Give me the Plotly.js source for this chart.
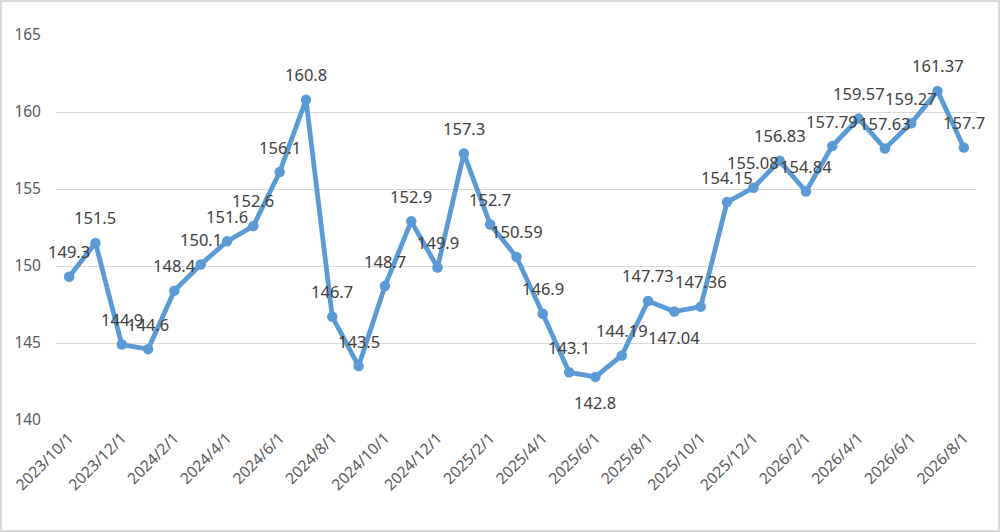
<!DOCTYPE html>
<html>
<head>
<meta charset="utf-8">
<script src="https://cdn.plot.ly/plotly-3.0.1.min.js"></script>
<style>
  html, body { margin: 0; padding: 0; background: #fff; }
  #chart { width: 1000px; height: 532px; box-sizing: border-box; border: 2px solid #d9d9d9; }
</style>
</head>
<body>
<div id="chart"></div>
<script>
var dates = [
  '2023/10/1', '2023/11/1', '2023/12/1',
  '2024/1/1', '2024/2/1', '2024/3/1', '2024/4/1', '2024/5/1', '2024/6/1',
  '2024/7/1', '2024/8/1', '2024/9/1', '2024/10/1', '2024/11/1', '2024/12/1',
  '2025/1/1', '2025/2/1', '2025/3/1', '2025/4/1', '2025/5/1', '2025/6/1',
  '2025/7/1', '2025/8/1', '2025/9/1', '2025/10/1', '2025/11/1', '2025/12/1',
  '2026/1/1', '2026/2/1', '2026/3/1', '2026/4/1', '2026/5/1', '2026/6/1',
  '2026/7/1', '2026/8/1'
];

var values = [
  149.3, 151.5, 144.9,
  144.6, 148.4, 150.1, 151.6, 152.6, 156.1,
  160.8, 146.7, 143.5, 148.7, 152.9, 149.9,
  157.3, 152.7, 150.59, 146.9, 143.1, 142.8,
  144.19, 147.73, 147.04, 147.36, 154.15, 155.08,
  156.83, 154.84, 157.79, 159.57, 157.63, 159.27,
  161.37, 157.7
];

// labels that sit under the point instead of above it
var labelsBelow = ['2025/6/1', '2025/9/1'];

var tickLabels = [
  '2023/10/1', '2023/12/1', '2024/2/1', '2024/4/1', '2024/6/1', '2024/8/1',
  '2024/10/1', '2024/12/1', '2025/2/1', '2025/4/1', '2025/6/1', '2025/8/1',
  '2025/10/1', '2025/12/1', '2026/2/1', '2026/4/1', '2026/6/1', '2026/8/1'
];

var line = {
  x: dates,
  y: values,
  type: 'scatter',
  mode: 'lines+markers',
  line: { color: '#5b9bd5', width: 4.8 },
  marker: { color: '#5b9bd5', size: 10.5 },
  hoverinfo: 'x+y'
};

var annotations = dates.map(function (d, i) {
  var below = labelsBelow.indexOf(d) >= 0;
  return {
    x: d,
    y: values[i],
    xref: 'x',
    yref: 'y',
    text: String(values[i]),
    showarrow: false,
    yshift: below ? -26 : 25,
    font: { family: 'Noto Sans', size: 16.5, color: '#404040' }
  };
});

var layout = {
  width: 996,
  height: 528,
  margin: { l: 54, r: 21, t: 33, b: 110 },
  paper_bgcolor: '#ffffff',
  plot_bgcolor: '#ffffff',
  showlegend: false,
  font: { family: 'Noto Sans', size: 15.5, color: '#595959' },
  xaxis: {
    type: 'category',
    range: [-0.5, dates.length - 0.5],
    tickmode: 'array',
    tickvals: tickLabels,
    ticktext: tickLabels,
    tickangle: -45,
    ticklabelstandoff: 5,
    showgrid: false,
    showline: false,
    ticks: '',
    tickfont: { family: 'Noto Sans', size: 15.5, color: '#595959' }
  },
  yaxis: {
    range: [140, 165],
    dtick: 5,
    showgrid: true,
    gridcolor: '#d9d9d9',
    gridwidth: 1,
    zeroline: false,
    showline: false,
    ticks: '',
    ticklabelstandoff: 14,
    tickfont: { family: 'Noto Sans', size: 15.5, color: '#595959' }
  },
  annotations: annotations
};

Plotly.newPlot('chart', [line], layout, { displayModeBar: false, staticPlot: true });
</script>
</body>
</html>
